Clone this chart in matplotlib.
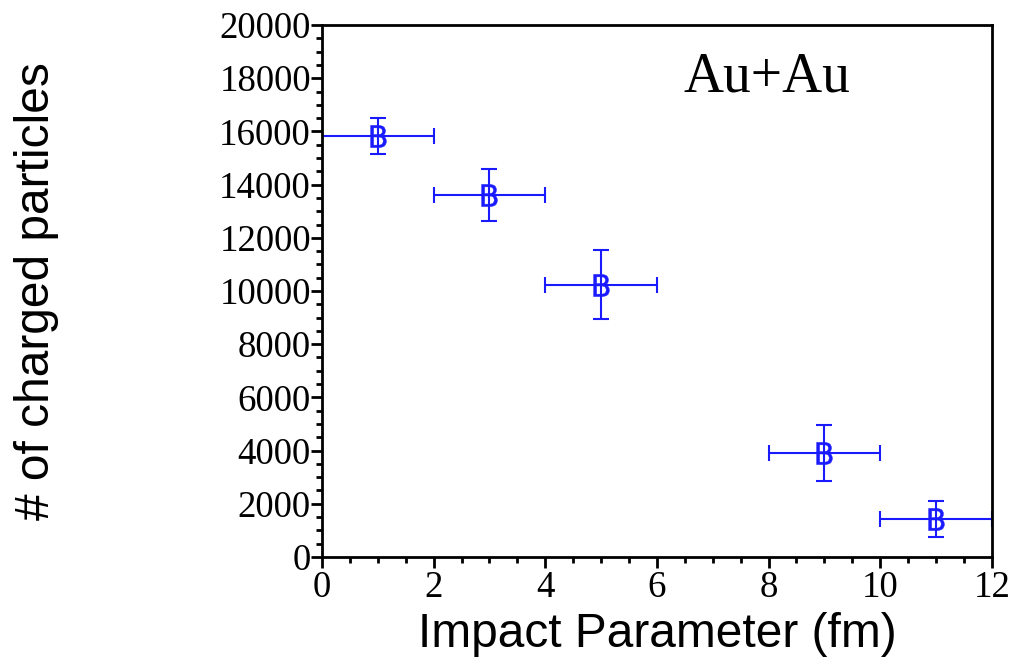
import matplotlib
matplotlib.use("Agg")
import matplotlib.pyplot as plt
from matplotlib.ticker import MultipleLocator

# data
impact = [1, 3, 5, 9, 11]
charged = [15830, 13610, 10230, 3910, 1430]
y_err = [680, 980, 1300, 1050, 680]
x_err = [1, 1, 1, 1, 1]

fig = plt.figure(figsize=(10.11, 6.58), dpi=100)
ax = fig.add_axes([0.3185, 0.1535, 0.6625, 0.8085])

ax.errorbar(impact, charged, xerr=x_err, yerr=y_err, fmt="none", ecolor="#1a1aff",
            elinewidth=1.5, capsize=6, capthick=1.5)
ax.plot(impact, charged, linestyle="none", marker=r"$\mathsf{B}$", color="#1a1aff",
        markersize=16, markeredgewidth=0.3)

ax.set_xlim(0, 12)
ax.set_ylim(0, 20000)
ax.xaxis.set_major_locator(MultipleLocator(2))
ax.xaxis.set_minor_locator(MultipleLocator(0.5))
ax.yaxis.set_major_locator(MultipleLocator(2000))
ax.yaxis.set_minor_locator(MultipleLocator(500))
ax.tick_params(which="both", direction="out", top=False, right=False, width=2)
ax.tick_params(which="major", length=8, labelsize=26.5)
ax.tick_params(which="minor", length=4.5)
ax.tick_params(axis="y", which="major", pad=0)
ax.tick_params(axis="x", which="major", pad=2)
for lab in ax.get_xticklabels() + ax.get_yticklabels():
    lab.set_family("Liberation Serif")
for s in ax.spines.values():
    s.set_linewidth(2)

ax.set_xlabel("Impact Parameter (fm)", family="Liberation Sans", fontsize=34.5, labelpad=5)
ax.set_ylabel("# of charged particles", family="Liberation Sans", fontsize=34.5)
ax.yaxis.set_label_coords(-0.393, 0.5)
ax.text(0.54, 0.875, "Au+Au", transform=ax.transAxes, family="Liberation Serif", fontsize=40)

fig.savefig("out.png", dpi=100)
